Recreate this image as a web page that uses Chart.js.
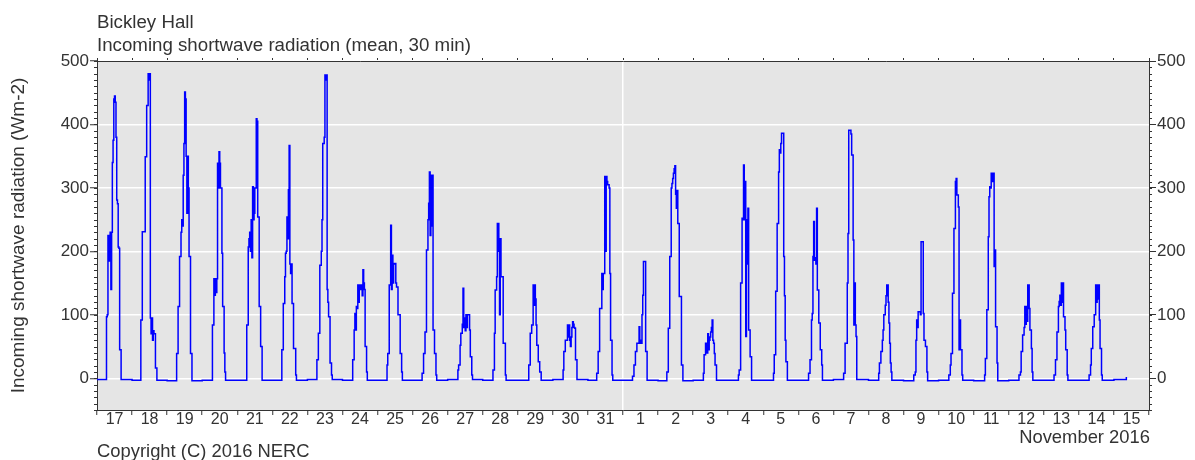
<!DOCTYPE html>
<html><head><meta charset="utf-8">
<script src="https://cdn.jsdelivr.net/npm/chart.js@4.4.0/dist/chart.umd.min.js"></script>
<style>html,body{margin:0;padding:0;background:#fff;}canvas{display:block;}</style>
</head><body>
<canvas id="c" width="1195" height="460"></canvas>
<script>
// ---------- text ----------
const titleLines = ['Bickley Hall', 'Incoming shortwave radiation (mean, 30 min)'];
const yAxisTitle = 'Incoming shortwave radiation (Wm-2)';
const monthLabel = 'November 2016';
const copyrightText = 'Copyright (C) 2016 NERC';

// ---------- categories (days, 17 Oct 2016 .. 15 Nov 2016) ----------
const dayLabels = ['17','18','19','20','21','22','23','24','25','26','27','28','29','30','31',
                   '1','2','3','4','5','6','7','8','9','10','11','12','13','14','15'];
const monthStartIndex = 15;            // 1 November
const yTickValues = [0, 100, 200, 300, 400, 500];

// ---------- series: half-hourly values (W m-2) ----------
// hour of the first daylight half-hour value of each day
const riseHour = [6.5, 6.0, 6.5, 7.0, 6.5, 6.5, 6.5, 7.0, 6.5, 6.5, 7.0, 7.0, 7.5, 7.0, 6.0,
                  6.5, 6.0, 7.0, 7.0, 7.0, 7.0, 7.0, 7.0, 7.0, 7.0, 7.5, 7.0, 7.0, 7.0, 8.5];
// daylight values, one every 30 min from riseHour
const dayValues = [
  [97,100,225,220,185,230,140,230,340,375,440,445,435,380,281,275,207,205,45,45],          // 17 Oct
  [92,92,231,231,231,231,349,349,430,430,480,470,480,95,70,95,60,75,70,70,16,16],           // 18
  [39,39,113,113,192,192,230,250,240,320,370,451,440,350,260,350,300,192,192,39,39],        // 19
  [84,84,157,131,157,135,157,339,300,357,339,300,300,197,113,113,40,10],                    // 20
  [84,84,207,220,230,200,250,190,302,250,260,300,300,409,405,254,254,113,113,50,50],        // 21
  [45,45,118,118,160,197,200,254,220,297,367,180,165,180,118,118,47,47,47,5],               // 22
  [29,29,71,71,178,178,200,250,370,370,380,478,470,478,140,120,97,97,24,24,5],              // 23
  [29,29,76,102,76,113,110,147,120,147,140,147,147,130,171,150,140,50,50,10],               // 24
  [21,39,39,147,147,241,140,194,150,181,180,181,150,144,144,100,100,100,39,39,10],          // 25
  [8,8,39,39,73,73,202,202,250,276,325,225,320,240,320,76,76,39,39,5],                      // 26
  [13,21,21,52,71,71,85,142,80,95,75,100,80,100,100,100,76,34,34,5],                        // 27
  [13,13,71,139,139,160,244,244,200,100,220,160,160,160,55,55,55,5],                        // 28
  [21,21,71,71,84,84,147,115,147,125,84,52,52,26,26,10,10],                                 // 29
  [13,42,42,60,60,60,84,65,84,60,50,65,80,89,85,80,79,29,29],                               // 30
  [8,8,42,42,110,110,110,165,140,165,165,318,200,318,310,305,305,300,165,60,60,5],          // 31
  [3,3,21,21,42,42,55,55,55,81,55,60,55,100,131,184,184,184,42,42],                         // 1 Nov
  [10,10,79,79,192,192,300,307,315,323,330,335,290,268,296,244,244,129,129,129,21,21],      // 2
  [8,37,37,55,55,40,70,45,60,65,73,80,92,60,55,39,21,21],                                   // 3
  [5,13,13,150,150,252,250,336,250,310,66,250,180,268,76,76,34,34],                         // 4
  [8,37,37,137,137,244,244,325,360,355,370,386,386,386,192,130,60,26,26],                   // 5
  [8,8,29,29,92,102,192,247,186,190,180,268,139,139,87,87,45,45,21],                        // 6
  [8,8,55,55,55,150,228,391,391,391,385,352,352,218,84,150,84,66],                          // 7
  [8,24,24,42,42,60,76,100,100,115,130,147,147,120,87,55,24,10],                            // 8
  [5,5,10,60,92,80,105,105,105,100,215,215,215,102,60,60,50,50,10],                         // 9
  [5,5,21,39,39,134,134,236,236,310,315,289,289,270,45,92,45,45,5],                         // 10
  [5,31,31,108,108,223,286,302,300,323,320,310,323,176,202,81,81,24],                       // 11
  [5,5,10,42,42,68,68,80,113,85,113,90,147,147,110,76,76,47,10],                            // 12
  [5,5,29,29,73,73,113,121,131,115,150,120,150,97,97,76,45,45,5],                           // 13
  [5,5,21,47,47,81,81,100,100,147,120,147,125,147,92,47,47,5],                              // 14
  [2]                                                                                       // 15
];
// night-time level of each day
const nightLevel = [-2,-3,-4,-3,-3,-3,-2,-3,-3,-3,-2,-3,-3,-2,-3,
                    -3,-4,-3,-3,-3,-3,-2,-3,-4,-3,-4,-3,-3,-3,-2];
const lastHour = 8.5;   // last record: 15 Nov 08:30

// ---------- build the series ----------
const points = [];
for (let d = 0; d < dayLabels.length; d++) {
  for (let s = 0; s < 48; s++) {
    const h = s / 2;
    if (d === dayLabels.length - 1 && h > lastHour) break;
    const i = Math.round((h - riseHour[d]) * 2);
    const vals = dayValues[d];
    const v = (i >= 0 && i < vals.length) ? vals[i] : nightLevel[d];
    points.push({ x: d * 24 + h, y: v });
  }
}

const FONT = "'Liberation Sans', Arial, sans-serif";
const TXT = '#333333';
const AXIS = '#333333';
const xMax = dayLabels.length * 24;

const plotBg = {
  id: 'plotBg',
  beforeDraw(chart) {
    const { ctx, chartArea: a } = chart;
    ctx.save();
    ctx.fillStyle = '#e5e5e5';
    ctx.fillRect(a.left, a.top, a.right - a.left, a.bottom - a.top);
    ctx.restore();
  }
};

const extras = {
  id: 'extras',
  afterDraw(chart) {
    const { ctx, chartArea: a } = chart;
    ctx.save();
    // minor ticks every 10 on both y axes
    ctx.strokeStyle = AXIS;
    ctx.lineWidth = 1;
    ['y', 'y2'].forEach(id => {
      const sc = chart.scales[id];
      ctx.beginPath();
      for (let v = sc.min; v <= sc.max; v += 10) {
        const py = Math.round(sc.getPixelForValue(v)) + 0.5;
        if (id === 'y') { ctx.moveTo(a.left - 3, py); ctx.lineTo(a.left, py); }
        else { ctx.moveTo(a.right, py); ctx.lineTo(a.right + 3, py); }
      }
      ctx.stroke();
    });
    // titles and footer texts
    ctx.fillStyle = TXT;
    ctx.textBaseline = 'alphabetic';
    ctx.font = '18.7px ' + FONT;
    ctx.textAlign = 'left';
    ctx.fillText(titleLines[0], a.left, 28);
    ctx.fillText(titleLines[1], a.left, 51);
    ctx.font = '18.4px ' + FONT;
    ctx.fillText(copyrightText, a.left, 457);
    ctx.textAlign = 'right';
    ctx.fillText(monthLabel, a.right + 1, 443);
    ctx.restore();
  }
};

const dayBoundaryTicks = s => { s.ticks = dayLabels.map((_, k) => ({ value: k * 24 })).concat([{ value: xMax }]); };
const yTicks = s => { s.ticks = yTickValues.map(v => ({ value: v })); };

new Chart(document.getElementById('c'), {
  type: 'line',
  data: {
    datasets: [{
      data: points,
      borderColor: '#0000ff',
      borderWidth: 1.5,
      pointRadius: 0,
      stepped: true,
      fill: false,
      xAxisID: 'x',
      yAxisID: 'y'
    }]
  },
  options: {
    responsive: false,
    animation: false,
    devicePixelRatio: 1,
    layout: { padding: 0 },
    plugins: { legend: { display: false }, tooltip: { enabled: false }, title: { display: false } },
    scales: {
      x: {
        type: 'linear', position: 'bottom', min: 0, max: xMax,
        afterBuildTicks: s => { const t = []; for (let k = 0; k <= dayLabels.length * 2; k++) t.push({ value: k * 12 }); s.ticks = t; },
        afterFit: s => { s.height = 50; },
        ticks: {
          autoSkip: false, maxRotation: 0, minRotation: 0, padding: -5, color: TXT,
          font: { size: 16, family: FONT },
          callback: v => (v % 24 === 12) ? dayLabels[(v - 12) / 24] : ''
        },
        grid: {
          drawOnChartArea: true, drawTicks: true, tickLength: 5, lineWidth: 1.5, tickWidth: 1,
          color: c => (c.tick && c.tick.value === monthStartIndex * 24) ? '#ffffff' : 'rgba(0,0,0,0)',
          tickColor: c => (c.tick && c.tick.value % 24 === 0) ? AXIS : 'rgba(0,0,0,0)'
        },
        border: { display: true, color: AXIS, width: 1 }
      },
      xTop: {
        type: 'linear', position: 'top', min: 0, max: xMax,
        afterBuildTicks: dayBoundaryTicks,
        afterFit: s => { s.height = 61; },
        ticks: { display: false },
        grid: { drawOnChartArea: false, drawTicks: true, tickLength: 3, tickColor: AXIS, color: AXIS },
        border: { display: true, color: AXIS, width: 1 }
      },
      y: {
        type: 'linear', position: 'left', min: -50, max: 500,
        afterBuildTicks: yTicks,
        afterFit: s => { s.width = 97; },
        ticks: { padding: 1, color: TXT, font: { size: 17, family: FONT } },
        grid: { color: '#ffffff', lineWidth: 1.5, drawTicks: true, tickLength: 7, tickColor: AXIS, tickWidth: 1 },
        border: { display: true, color: AXIS, width: 1 },
        title: { display: true, text: yAxisTitle, color: TXT, font: { size: 19, family: FONT }, padding: { top: 7, bottom: 0 } }
      },
      y2: {
        type: 'linear', position: 'right', min: -50, max: 500,
        afterBuildTicks: yTicks,
        afterFit: s => { s.width = 46; },
        ticks: { padding: 1, color: TXT, font: { size: 17, family: FONT } },
        grid: { drawOnChartArea: false, drawTicks: true, tickLength: 7, tickColor: AXIS, color: AXIS, tickWidth: 1 },
        border: { display: true, color: AXIS, width: 1 }
      }
    }
  },
  plugins: [plotBg, extras]
});
</script>
</body></html>
